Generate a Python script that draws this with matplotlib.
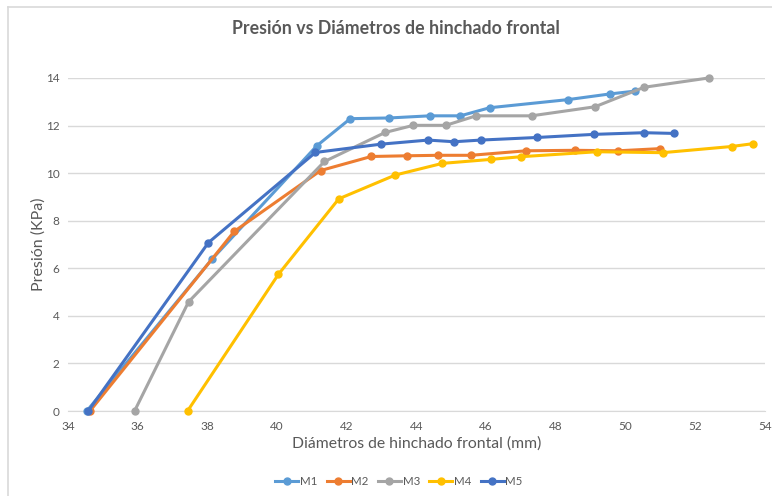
import matplotlib
matplotlib.use("Agg")
import matplotlib.pyplot as plt
from matplotlib.lines import Line2D

plt.rcParams['font.family'] = ['Lato', 'DejaVu Sans']

# diametro frontal (mm) y presion (KPa) de cada muestra
m1_x = [34.54, 38.13, 41.14, 42.10, 43.22, 44.38, 45.26, 46.10, 48.34, 49.55, 50.28]
m1_y = [0.0, 6.38, 11.15, 12.29, 12.32, 12.41, 12.41, 12.75, 13.09, 13.33, 13.45]

m2_x = [34.63, 38.77, 41.25, 42.70, 43.74, 44.61, 45.56, 47.15, 48.55, 49.79, 50.98]
m2_y = [0.0, 7.55, 10.11, 10.70, 10.73, 10.75, 10.75, 10.94, 10.96, 10.94, 11.03]

m3_x = [35.91, 37.46, 41.36, 43.10, 43.91, 44.84, 45.71, 47.30, 49.12, 50.53, 52.38]
m3_y = [0.0, 4.59, 10.49, 11.71, 12.01, 12.01, 12.41, 12.41, 12.79, 13.61, 14.00]

m4_x = [37.43, 40.04, 41.77, 43.39, 44.74, 46.15, 46.99, 49.18, 51.06, 53.04, 53.66]
m4_y = [0.0, 5.75, 8.92, 9.92, 10.41, 10.58, 10.69, 10.90, 10.86, 11.12, 11.24]

m5_x = [34.58, 38.03, 41.10, 42.99, 44.33, 45.08, 45.84, 47.47, 49.09, 50.53, 51.39]
m5_y = [0.0, 7.08, 10.87, 11.22, 11.39, 11.32, 11.39, 11.50, 11.63, 11.70, 11.67]

series = [("M1", m1_x, m1_y, "#5B9BD5"),
          ("M2", m2_x, m2_y, "#ED7D31"),
          ("M3", m3_x, m3_y, "#A5A5A5"),
          ("M4", m4_x, m4_y, "#FFC000"),
          ("M5", m5_x, m5_y, "#4472C4")]

fig = plt.figure(figsize=(7.72, 4.96), dpi=100)
ax = fig.add_axes([68/772, 85/496, 697/772, 333/496])

for name, xs, ys, col in series:
    ax.plot(xs, ys, color=col, lw=2.2, marker="o", ms=5, label=name,
            clip_on=False, zorder=3)

ax.set_xlim(34, 54)
ax.set_ylim(0, 14)
ax.set_xticks(range(34, 55, 2))
ax.set_yticks(range(0, 15, 2))
ax.grid(axis="y", color="#D9D9D9", lw=1)
ax.set_axisbelow(True)
for s in ["top", "right", "left"]:
    ax.spines[s].set_visible(False)
ax.spines["bottom"].set_color("#D9D9D9")
ax.tick_params(axis="x", length=0, labelsize=8.5, labelcolor="#595959", pad=7)
ax.tick_params(axis="y", length=0, labelsize=8.5, labelcolor="#595959", pad=6)

ax.set_xlabel("Diámetros de hinchado frontal (mm)", fontsize=11.3, color="#595959", labelpad=3)
ax.set_ylabel("Presión (KPa)", fontsize=11.5, color="#595959", labelpad=0)
fig.text(396/772, 0.943, "Presión vs Diámetros de hinchado frontal", ha="center", va="center",
         fontsize=12.8, fontweight="bold", color="#595959")

fig.legend(loc="center", bbox_to_anchor=(399/772, 0.03), ncol=5, frameon=False,
           fontsize=8.3, labelcolor="#595959", handlelength=2.0, handletextpad=0.15,
           columnspacing=0.8)

# borde del grafico
fig.add_artist(Line2D([8/772, 8/772], [0, 1 - 7/496], transform=fig.transFigure,
                      color="#D9D9D9", lw=1.2))
fig.add_artist(Line2D([8/772, 1], [1 - 7/496, 1 - 7/496], transform=fig.transFigure,
                      color="#D9D9D9", lw=1.2))

fig.savefig("out.png", dpi=100)
